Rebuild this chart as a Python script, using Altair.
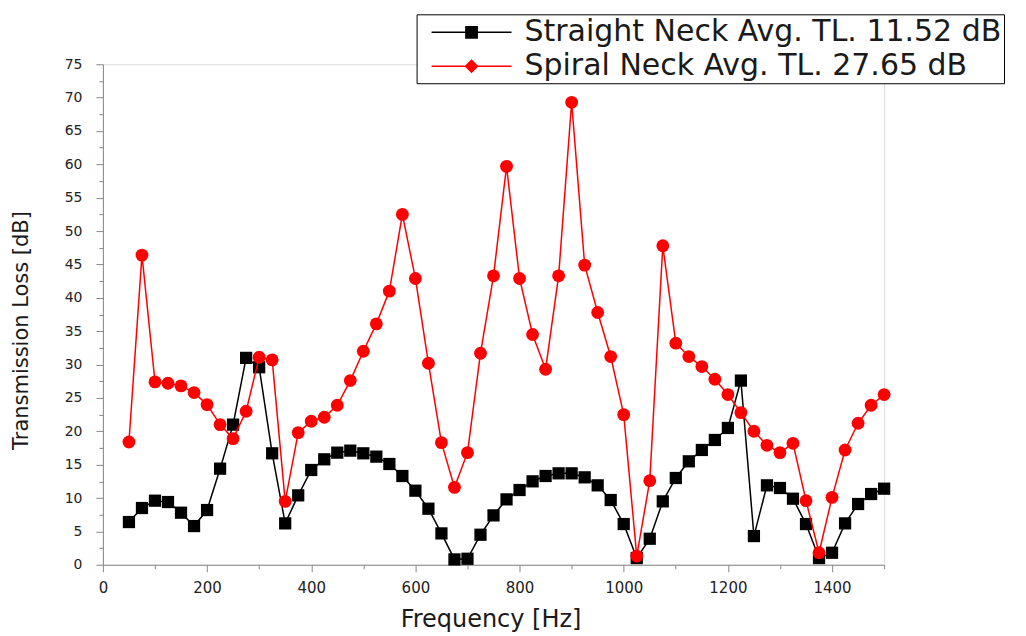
import altair as alt
import pandas as pd

freq_hz = [50, 75, 100, 125, 150, 175, 200, 225, 250, 275, 300, 325, 350, 375, 400,
           425, 450, 475, 500, 525, 550, 575, 600, 625, 650, 675, 700, 725, 750, 775,
           800, 825, 850, 875, 900, 925, 950, 975, 1000, 1025, 1050, 1075, 1100, 1125,
           1150, 1175, 1200, 1225, 1250, 1275, 1300, 1325, 1350, 1375, 1400, 1425,
           1450, 1475, 1500]

straight_tl = [6.4, 8.5, 9.6, 9.4, 7.8, 5.8, 8.2, 14.4, 21.0, 31.0, 29.6, 16.7, 6.2,
               10.4, 14.2, 15.8, 16.8, 17.1, 16.7, 16.2, 15.1, 13.3, 11.1, 8.4, 4.7,
               0.8, 0.9, 4.5, 7.4, 9.8, 11.2, 12.5, 13.3, 13.7, 13.7, 13.1, 11.9, 9.7,
               6.1, 1.0, 3.9, 9.5, 13.0, 15.5, 17.2, 18.7, 20.5, 27.6, 4.3, 11.9, 11.5,
               9.9, 6.1, 1.0, 1.8, 6.2, 9.1, 10.6, 11.4]

spiral_tl = [18.4, 46.4, 27.4, 27.2, 26.8, 25.8, 24.0, 21.0, 18.9, 23.0, 31.1, 30.7,
             9.5, 19.8, 21.5, 22.1, 23.9, 27.6, 32.0, 36.1, 41.0, 52.5, 42.9, 30.2,
             18.3, 11.6, 16.8, 31.7, 43.3, 59.7, 42.9, 34.5, 29.3, 43.3, 69.3, 44.9,
             37.8, 31.2, 22.5, 1.3, 12.6, 47.8, 33.2, 31.2, 29.7, 27.8, 25.5, 22.8,
             20.0, 17.9, 16.8, 18.2, 9.6, 1.8, 10.1, 17.2, 21.2, 23.9, 25.5]

series_names = ["Straight Neck Avg. TL. 11.52 dB", "Spiral Neck Avg. TL. 27.65 dB"]
series_colors = ["#000000", "#ff0000"]

x_ticks = [0, 100, 200, 300, 400, 500, 600, 700, 800, 900, 1000, 1100, 1200, 1300, 1400, 1500]
y_ticks = [0, 2.5, 5, 7.5, 10, 12.5, 15, 17.5, 20, 22.5, 25, 27.5, 30, 32.5, 35, 37.5,
           40, 42.5, 45, 47.5, 50, 52.5, 55, 57.5, 60, 62.5, 65, 67.5, 70, 72.5, 75]

n = len(freq_hz)
df = pd.DataFrame({
    "freq": freq_hz + freq_hz,
    "tl": straight_tl + spiral_tl,
    "series": [series_names[0]] * n + [series_names[1]] * n,
})

x_axis = alt.Axis(
    values=x_ticks, format="d",
    labelExpr="datum.value % 200 === 0 ? datum.label : ''",
    tickSize={"condition": {"test": "datum.value % 200 === 0", "value": 7}, "value": 4},
    labelPadding=9,
    labelFont="DejaVu Sans", labelFontSize=15, labelColor="#222222",
    labelOverlap=False, labelFlush=False,
    title="Frequency [Hz]", titleFont="DejaVu Sans", titleFontSize=24,
    titleFontWeight="normal", titleColor="#1a1a1a",
    titleX=388, titleY=62, titleBaseline="alphabetic", titleAlign="center",
    grid=False,
)
y_axis = alt.Axis(
    values=y_ticks,
    labelExpr="datum.value % 5 === 0 ? datum.label : ''",
    tickSize={"condition": {"test": "datum.value % 5 === 0", "value": 7}, "value": 4},
    labelPadding=14,
    labelFont="DejaVu Sans", labelFontSize=14, labelColor="#222222",
    labelOverlap=False, labelFlush=False,
    title="Transmission Loss [dB]", titleFont="DejaVu Sans", titleFontSize=21,
    titleFontWeight="normal", titleColor="#1a1a1a",
    titleX=-81, titleY=266, titleAngle=270, titleBaseline="middle", titleAlign="center",
    grid=False,
)

x_enc = alt.X("freq:Q", scale=alt.Scale(domain=[0, 1500], nice=False, zero=False), axis=x_axis)
y_enc = alt.Y("tl:Q", scale=alt.Scale(domain=[0, 75], nice=False, zero=False), axis=y_axis)

base = alt.Chart(df)
straight = base.transform_filter(alt.datum.series == series_names[0])
spiral = base.transform_filter(alt.datum.series == series_names[1])

line_s = straight.mark_line(color=series_colors[0], strokeWidth=1.5).encode(x=x_enc, y=y_enc)
pts_s = straight.mark_point(shape="square", filled=True, size=150, color=series_colors[0],
                            opacity=1).encode(x=x_enc, y=y_enc)
line_p = spiral.mark_line(color=series_colors[1], strokeWidth=1.5).encode(x=x_enc, y=y_enc)
pts_p = spiral.mark_point(shape="circle", filled=True, size=165, color=series_colors[1],
                          opacity=1).encode(x=x_enc, y=y_enc)

# legend symbols: unit = 16 px (symbolSize 1024); line 80 px long with marker centred
sym_square = "M-1,-0.047H4V0.047H-1Z M1.1,-0.4H1.9V0.4H1.1Z"
sym_diamond = "M-1,-0.047H4V0.047H-1Z M1.5,-0.44L1.94,0L1.5,0.44L1.06,0Z"

leg = alt.Legend(
    title=None, orient="none", legendX=314, legendY=-50,
    symbolSize=1024, symbolStrokeWidth=0, symbolOpacity=1,
    labelFont="DejaVu Sans", labelFontSize=30, labelColor="#1a1a1a", labelLimit=0,
    padding=2, rowPadding=3, symbolOffset=13, labelOffset=61,
    strokeColor="#000000", fillColor="#ffffff",
)

legend_layer = base.transform_filter("false").mark_point(filled=True, opacity=1).encode(
    x=x_enc, y=y_enc,
    color=alt.Color("series:N", scale=alt.Scale(domain=series_names, range=series_colors), legend=leg),
    shape=alt.Shape("series:N", scale=alt.Scale(domain=series_names, range=[sym_square, sym_diamond]), legend=leg),
)

chart = alt.layer(line_s, pts_s, line_p, pts_p, legend_layer).properties(
    width=782, height=501,
    autosize=alt.AutoSizeParams(type="none"),
    padding={"left": 95, "top": 56, "right": 134, "bottom": 69},
).configure_view(stroke=None).configure_axis(
    domainColor="#000000", domainWidth=1.5, tickColor="#000000", tickWidth=1.5,
).configure(background="#ffffff")

chart.save("out.html", embed_options={"renderer": "svg", "actions": False})
